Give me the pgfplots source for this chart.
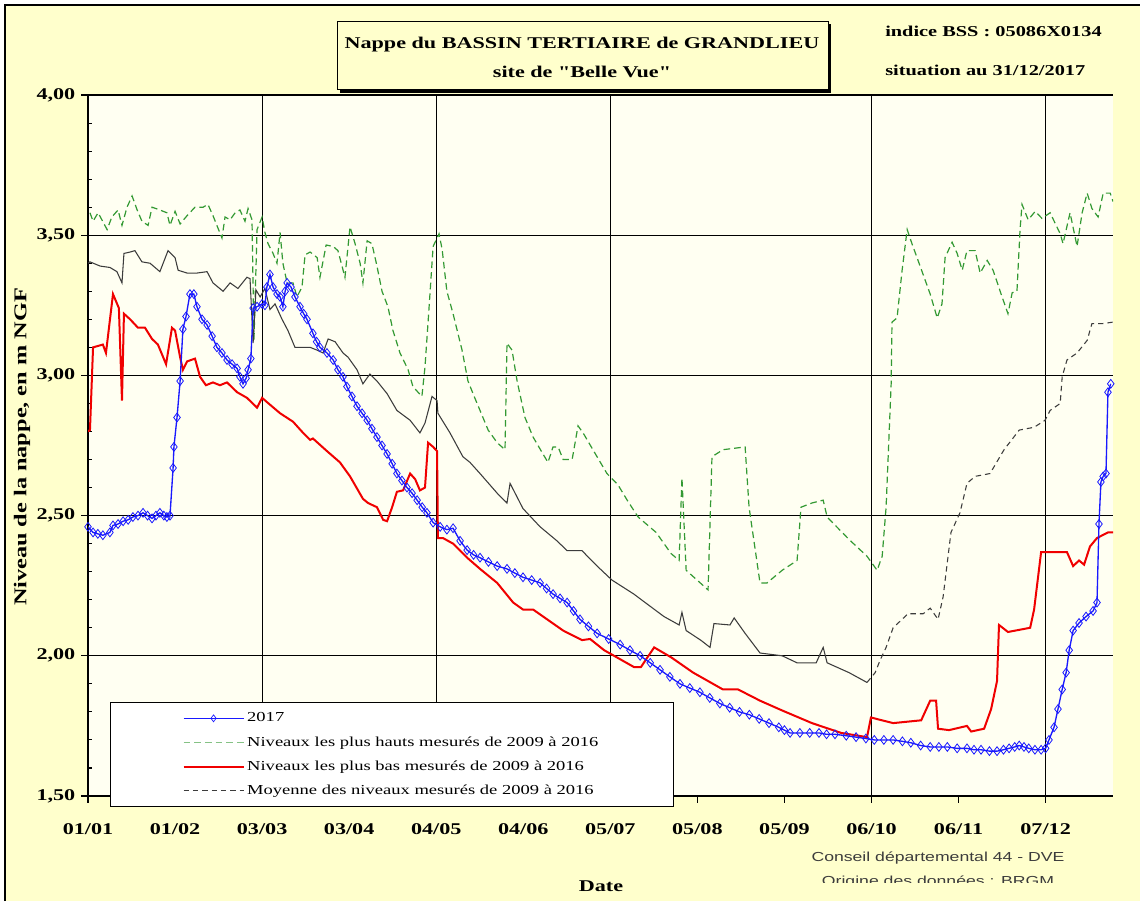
\documentclass[border=0pt]{standalone}
\usepackage{fontspec}
\setmainfont[FakeStretch=1.35]{Liberation Serif}
\newfontfamily\plainserif[FakeStretch=1.35]{Liberation Serif}
\newfontfamily\credfont[FakeStretch=1.35]{Liberation Sans}
\usepackage{pgfplots}
\pgfplotsset{compat=1.18}

\definecolor{bgyellow}{RGB}{255,255,204}
\definecolor{plotbg}{RGB}{255,255,242}
\definecolor{hautgreen}{RGB}{51,153,51}
\definecolor{moygray}{RGB}{60,60,60}
\definecolor{blue17}{RGB}{25,25,255}
\definecolor{bas}{RGB}{240,0,0}

\begin{document}
\begin{tikzpicture}
\useasboundingbox (0,0) rectangle (855pt,-675.75pt);
\begin{scope}[x=0.75pt,y=-0.75pt]
  \fill[white] (0,0) rectangle (1140,901);
  \fill[bgyellow] (5,5) rectangle (1140,901);
  \draw[black,line width=1.5pt] (5,901) -- (5,5) -- (1140,5);
  % title box
  \fill[black] (340,24) rectangle (831,93);
  \filldraw[fill=bgyellow,draw=black,line width=0.75pt] (337,21) rectangle (828,89);
  \node[font=\bfseries\fontsize{12.3}{14}\selectfont] at (582,45) {Nappe du BASSIN TERTIAIRE de GRANDLIEU};
  \node[font=\plainserif\bfseries\fontsize{12.3}{14}\selectfont] at (582,72) {site de "Belle Vue"};
  \node[anchor=west,inner sep=0pt,font=\bfseries\fontsize{11.3}{13}\selectfont] at (885,31) {indice BSS : 05086X0134};
  \node[anchor=west,inner sep=0pt,font=\bfseries\fontsize{11.3}{13}\selectfont] at (885,70) {situation au 31/12/2017};
  % axis titles
  \node[rotate=90,font=\bfseries\fontsize{13.5}{15}\selectfont] at (22,447) {Niveau de la nappe, en m NGF};
  \node[font=\bfseries\fontsize{12.3}{14}\selectfont] at (601,886) {Date};
  % credits
  \begin{scope}
    \clip (700,845) rectangle (1140,882);
    \node[font=\credfont\fontsize{9.8}{11}\selectfont,text=moygray] at (938,858) {Conseil départemental 44 - DVE};
    \node[anchor=base,font=\credfont\fontsize{9.8}{11}\selectfont,text=moygray] at (938,885) {Origine des données : BRGM};
  \end{scope}
\end{scope}

\begin{axis}[
  at={(66pt,-597pt)}, anchor=south west,
  scale only axis, width=768.75pt, height=525.75pt,
  xmin=0, xmax=365, ymin=1.5, ymax=4,
  axis background/.style={fill=plotbg},
  axis x line*=bottom, axis y line*=left,
  axis line style={black,line width=1pt},
  xtick={0,31,...,341},
  xticklabels={01/01,01/02,03/03,03/04,04/05,04/06,05/07,05/08,05/09,06/10,06/11,07/12},
  extra x ticks={62,124,186,279,341},
  extra x tick labels={},
  extra x tick style={grid=major},
  ytick={1.5,2,2.5,3,3.5,4},
  yticklabels={{1,50},{2,00},{2,50},{3,00},{3,50},{4,00}},
  minor y tick num=4,
  ymajorgrids=true,
  grid style={black,line width=0.9pt},
  tick align=outside,
  major tick length=5pt,
  minor tick length=3pt,
  minor y tick style={xshift=3pt},
  tick style={black,line width=0.8pt},
  ticklabel style={font=\bfseries\fontsize{12.3}{14}\selectfont},
  xticklabel style={yshift=-12pt},
  yticklabel style={xshift=-1pt},
  legend cell align=left,
  legend style={at={(axis description cs:0.0215,-0.0157)}, anchor=south west,
    draw=black, fill=white, line width=0.75pt,
    font=\fontsize{10.3}{12}\selectfont,
    inner xsep=54pt, inner ysep=5.5pt, row sep=5.5pt},
  legend image code/.code={\draw[mark repeat=2,mark phase=2,#1] plot coordinates {(3pt,0pt) (25.5pt,0pt) (48pt,0pt)};},
]

\addlegendimage{blue17, line width=0.8pt, mark=diamond, mark size=2.6pt,
  mark options={solid, draw=blue17, fill=blue17!15, line width=0.5pt}}
\addlegendentry{2017}
\addlegendimage{hautgreen!60!white, line width=0.9pt, dash pattern=on 5pt off 3pt}
\addlegendentry{Niveaux les plus hauts mesurés de 2009 à 2016}
\addlegendimage{bas, line width=1.5pt}
\addlegendentry{Niveaux les plus bas mesurés de 2009 à 2016}
\addlegendimage{moygray, line width=0.8pt, dash pattern=on 4pt off 3pt}
\addlegendentry{Moyenne des niveaux mesurés de 2009 à 2016}

% plus hauts
\addplot[forget plot, hautgreen, line width=0.9pt, dash pattern=on 5pt off 3pt] coordinates {
(0.7,3.58) (1.8,3.55) (3.6,3.58) (6.8,3.52) (8.5,3.565) (10.7,3.59) (12.1,3.535)
(13.9,3.60) (15.7,3.64) (17.5,3.59) (19.2,3.55) (21.4,3.535) (22.8,3.60) (25.6,3.59)
(28.1,3.58) (29.2,3.535) (31.0,3.585) (32.8,3.54) (35.3,3.57) (38.1,3.60) (41.0,3.60)
(42.7,3.61) (44.5,3.57) (47.7,3.49) (48.8,3.565) (50.6,3.555) (52.4,3.58) (54.1,3.59)
(55.9,3.55) (57.0,3.595) (58.4,3.555) (59.1,3.125) (60.2,3.52) (62.0,3.565) (63.0,3.51)
(64.1,3.47) (65.9,3.435) (67.3,3.40) (68.4,3.51) (69.4,3.40) (70.9,3.33) (73.0,3.33)
(74.4,3.28) (76.2,3.315) (77.3,3.43) (79.1,3.44) (81.6,3.42) (82.6,3.35) (84.8,3.465)
(87.3,3.46) (89.0,3.445) (91.5,3.35) (93.3,3.53) (95.1,3.47) (96.9,3.40) (97.9,3.33)
(99.4,3.48) (101.1,3.47) (102.9,3.39) (104.7,3.30) (106.8,3.245) (108.6,3.16) (111.1,3.08)
(114.0,3.02) (115.7,2.96) (118.9,2.925) (120.0,3.03) (121.1,3.19) (122.9,3.46) (125.0,3.505)
(126.1,3.45) (127.8,3.30) (130.0,3.22) (133.2,3.09) (135.3,2.98) (137.1,2.935) (139.6,2.875)
(142.5,2.805) (145.7,2.76) (148.5,2.735) (149.2,3.115) (151.0,3.09) (152.8,2.98) (155.6,2.85)
(158.5,2.78) (162.0,2.72) (163.8,2.69) (165.6,2.745) (167.4,2.745) (169.2,2.70) (172.4,2.70)
(174.5,2.82) (176.3,2.795) (179.8,2.735) (184.8,2.65) (188.7,2.61) (192.0,2.555) (195.9,2.495)
(202.3,2.44) (207.6,2.365) (210.5,2.34) (211.5,2.635) (213.0,2.305) (220.8,2.235) (222.2,2.71)
(226.1,2.735) (234.0,2.745) (235.4,2.53) (239.3,2.26) (241.8,2.26) (247.2,2.305) (252.5,2.34)
(253.9,2.53) (257.8,2.545) (261.8,2.555) (263.2,2.495) (271.0,2.415) (277.4,2.355) (281.0,2.305)
(282.8,2.355) (284.2,2.53) (286.0,2.97) (286.3,3.19) (288.1,3.205) (289.9,3.375) (291.7,3.52)
(293.4,3.47) (296.3,3.39) (299.9,3.29) (302.4,3.205) (304.1,3.255) (305.2,3.42) (307.7,3.475)
(309.5,3.435) (311.3,3.375) (313.0,3.445) (315.9,3.445) (317.7,3.365) (320.2,3.41) (322.3,3.375)
(325.5,3.28) (327.6,3.22) (329.1,3.295) (330.8,3.30) (331.9,3.52) (332.6,3.61) (334.8,3.555)
(337.3,3.585) (339.7,3.56) (342.6,3.58) (346.2,3.505) (347.2,3.47) (349.7,3.58) (352.2,3.46)
(354.0,3.58) (355.8,3.65) (357.5,3.595) (359.7,3.565) (361.5,3.65) (364.0,3.65) (365,3.62)
};

% moyenne (partie dense, continue)
\addplot[forget plot, moygray, line width=0.8pt] coordinates {
(0,3.40) (0.7,3.405) (4.3,3.39) (7.8,3.385) (10.3,3.37) (12.1,3.33) (12.8,3.435) (15.0,3.44)
(16.7,3.445) (19.2,3.405) (22.1,3.40) (25.6,3.37) (28.5,3.445) (31.0,3.42) (32.1,3.375)
(35.3,3.365) (38.8,3.365) (42.4,3.37) (44.5,3.33) (48.1,3.30) (50.6,3.33) (53.4,3.31)
(56.6,3.35) (57.7,3.345) (58.8,3.115) (59.8,3.305) (61.3,3.28) (63.0,3.31) (64.8,3.235)
(66.6,3.255) (69.1,3.20) (71.2,3.16) (73.7,3.10) (76.2,3.10) (79.1,3.10) (81.6,3.09)
(83.7,3.08) (85.5,3.13) (88.0,3.12) (90.8,3.08) (92.6,3.065) (95.8,3.02) (97.9,2.97)
(100.4,3.005) (102.9,2.98) (106.5,2.935) (110.0,2.875) (114.7,2.84) (118.2,2.795) (120.0,2.83)
(122.5,2.925) (124.3,2.91) (124.6,2.865) (128.9,2.795) (133.5,2.71) (136.0,2.69) (139.6,2.65)
(145.7,2.58) (149.2,2.545) (150.3,2.615) (154.9,2.525) (161.0,2.46) (167.0,2.41) (170.6,2.375)
(175.9,2.375) (181.3,2.32) (186.6,2.27) (194.4,2.22) (198.4,2.19) (205.1,2.14) (210.5,2.11)
(211.5,2.155) (213.0,2.09) (218.3,2.055) (221.5,2.03) (222.9,2.115) (228.6,2.11) (230.1,2.135)
(234.0,2.08) (239.3,2.01) (247.2,2.00) (252.5,1.975) (259.3,1.975) (261.8,2.03) (263.2,1.975)
(271.0,1.94) (277.4,1.905)
};
% moyenne (fin d'annee, tiretee)
\addplot[forget plot, moygray, line width=0.8pt, dash pattern=on 4pt off 3pt] coordinates {
(277.4,1.905) (280.3,1.94) (282.1,1.985) (284.2,2.03) (286.7,2.10) (292.0,2.15) (297.4,2.15)
(299.9,2.17) (302.7,2.13) (304.5,2.21) (307.3,2.44) (310.5,2.51) (313.0,2.615) (315.9,2.64)
(321.2,2.65) (326.2,2.735) (331.6,2.805) (336.9,2.815) (340.8,2.84) (342.6,2.875) (346.2,2.90)
(346.9,2.995) (348.6,3.055) (352.2,3.08) (355.8,3.125) (357.5,3.185) (361.5,3.185) (365,3.19)
};

% plus bas
\addplot[forget plot, bas, line width=1.5pt] coordinates {
(0,2.80) (0.7,2.805) (1.8,3.10) (5.3,3.11) (6.4,3.08) (8.9,3.29) (11.0,3.24) (12.1,2.91)
(12.8,3.22) (15.0,3.20) (17.8,3.17) (20.3,3.17) (22.8,3.13) (24.9,3.11) (27.8,3.04)
(29.9,3.17) (31.0,3.16) (32.8,3.065) (33.8,3.02) (35.3,3.05) (38.1,3.06) (39.9,2.995)
(42.0,2.965) (44.5,2.975) (47.0,2.965) (49.5,2.975) (53.1,2.94) (56.6,2.92) (60.2,2.885)
(62.0,2.92) (63.7,2.905) (68.4,2.865) (73.0,2.835) (76.6,2.795) (79.1,2.77) (80.1,2.775)
(85.1,2.73) (89.7,2.69) (93.3,2.64) (97.9,2.56) (99.7,2.545) (102.9,2.53) (105.1,2.485)
(106.5,2.48) (108.3,2.53) (110.0,2.585) (112.2,2.59) (114.7,2.65) (116.5,2.63) (118.2,2.59)
(120.0,2.60) (121.1,2.76) (122.9,2.745) (124.3,2.73) (124.6,2.42) (126.4,2.42) (130.0,2.40)
(135.0,2.35) (139.6,2.31) (145.7,2.26) (151.4,2.19) (154.9,2.165) (158.5,2.165) (163.5,2.13)
(169.2,2.09) (175.9,2.056) (178.8,2.06) (183.8,2.02) (194.4,1.96) (196.9,1.96) (201.6,2.03)
(207.6,1.995) (215.5,1.94) (226.1,1.88) (231.5,1.88) (239.3,1.84) (247.2,1.805) (257.8,1.76)
(268.2,1.725) (277.4,1.71) (278.8,1.78) (286.7,1.76) (296.7,1.77) (299.9,1.84) (302.0,1.84)
(302.7,1.74) (306.6,1.735) (313.0,1.75) (314.5,1.73) (319.1,1.74) (321.6,1.81) (323.7,1.91)
(324.4,2.11) (327.6,2.085) (335.5,2.10) (336.9,2.165) (339.4,2.37) (348.6,2.37) (350.8,2.32)
(352.9,2.34) (354.7,2.325) (356.8,2.39) (359.3,2.42) (363.2,2.44) (365,2.44)
};

% 2017
\addplot[forget plot, blue17, line width=1pt, mark=diamond, mark size=3.3pt,
  mark options={solid, draw=blue17, fill=blue17!15, line width=0.6pt}] coordinates {
(0,2.46) (1.8,2.44) (3.5,2.435) (5.3,2.43) (7.8,2.44) (8.9,2.465) (10.7,2.47) (12.5,2.48)
(14.3,2.485) (16.0,2.495) (17.8,2.50) (19.6,2.51) (21.2,2.50) (22.8,2.49) (24.2,2.50)
(25.6,2.51) (27.0,2.50) (28.1,2.495) (29.2,2.50) (30.3,2.67) (30.6,2.745) (31.7,2.85)
(32.8,2.98) (33.8,3.165) (34.9,3.21) (36.3,3.29) (37.7,3.29) (38.8,3.245) (40.6,3.20)
(42.4,3.18) (44.2,3.14) (45.9,3.10) (47.7,3.08) (49.5,3.055) (51.3,3.04) (53.1,3.025)
(54.1,2.995) (55.2,2.97) (56.3,2.99) (57.0,3.02) (58.0,3.06) (58.8,3.24) (60.2,3.245)
(62.0,3.255) (63.0,3.25) (63.7,3.315) (64.8,3.36) (65.9,3.315) (67.3,3.29) (68.4,3.28)
(69.4,3.245) (70.2,3.30) (70.9,3.33) (72.3,3.315) (73.7,3.28) (75.5,3.245) (76.8,3.22)
(78.0,3.20) (80.1,3.15) (81.4,3.12) (82.6,3.10) (85.1,3.08) (87.3,3.055) (89.0,3.02)
(90.8,2.995) (92.2,2.96) (94.0,2.925) (95.8,2.89) (97.6,2.865) (99.4,2.84) (101.1,2.81)
(102.9,2.78) (104.7,2.75) (106.5,2.72) (108.3,2.685) (110.0,2.65) (111.8,2.625) (113.6,2.60)
(115.4,2.58) (117.2,2.555) (119.0,2.53) (120.7,2.51) (122.9,2.475) (125.4,2.46) (127.8,2.45)
(130.0,2.455) (132.5,2.41) (135.0,2.377) (137.3,2.36) (139.6,2.35) (142.6,2.335) (145.7,2.32)
(149.2,2.31) (152.0,2.295) (154.9,2.28) (158.0,2.27) (161.0,2.26) (163.3,2.24) (165.6,2.22)
(168.1,2.205) (170.6,2.19) (172.9,2.16) (175.2,2.13) (178.2,2.105) (181.3,2.08) (185.4,2.06)
(189.5,2.04) (193.0,2.02) (196.6,2.00) (200.2,1.975) (203.7,1.95) (207.2,1.925) (210.8,1.90)
(214.3,1.885) (217.9,1.87) (221.4,1.85) (225.0,1.83) (228.5,1.815) (232.0,1.80) (235.5,1.79)
(239.0,1.775) (242.5,1.76) (246.0,1.745) (248.0,1.735) (250.0,1.725) (253.5,1.725)
(257.0,1.725) (260.3,1.725) (263.0,1.72) (266.0,1.72) (270.0,1.715) (273.5,1.71) (277.0,1.705)
(280.0,1.70) (283.4,1.70) (286.7,1.70) (290.0,1.695) (293.0,1.69) (296.5,1.68) (299.9,1.675)
(303.0,1.675) (306.0,1.675) (309.5,1.67) (313.0,1.67) (315.5,1.665) (318.0,1.665) (321.0,1.66)
(323.7,1.66) (326.0,1.665) (328.0,1.67) (330.0,1.675) (331.6,1.68) (333.3,1.675) (335.0,1.67)
(337.2,1.665) (339.4,1.665) (341.0,1.67) (342.2,1.70) (344.0,1.745) (345.4,1.81) (346.9,1.88)
(348.3,1.94) (349.4,2.02) (350.8,2.09) (352.9,2.117) (355.4,2.14) (357.9,2.16) (359.3,2.19)
(360.0,2.47) (360.7,2.62) (361.5,2.64) (362.5,2.65) (363.2,2.94) (364.2,2.97)
};
\end{axis}
\end{tikzpicture}
\end{document}
